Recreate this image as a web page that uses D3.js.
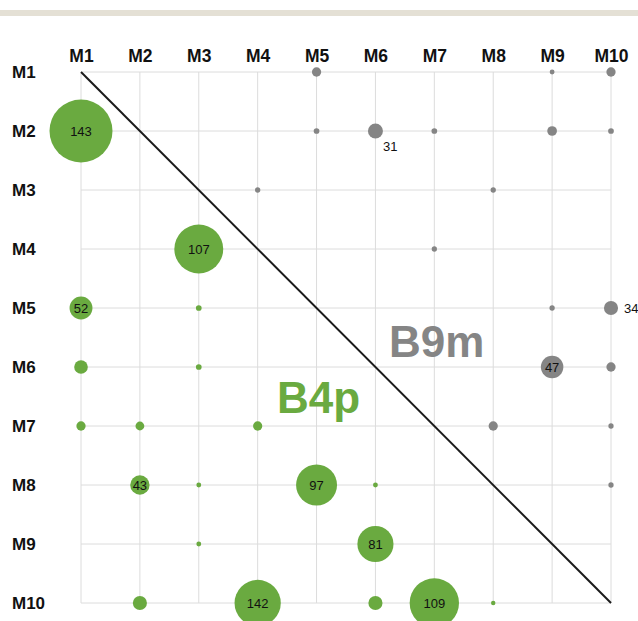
<!DOCTYPE html>
<html>
<head>
<meta charset="utf-8">
<script src="https://cdn.jsdelivr.net/npm/d3@7"></script>
<style>
  html, body { margin: 0; padding: 0; background: #fff; }
  svg { display: block; font-family: "Liberation Sans", Arial, Helvetica, sans-serif; }
</style>
</head>
<body>
<svg id="chart" width="638" height="621"></svg>
<script>
// ---- data ----
const modules = ["M1","M2","M3","M4","M5","M6","M7","M8","M9","M10"];

// lower triangle (B4p): row, column, bubble size, shown label
const b4pRow   = ["M2","M4","M5","M5","M6","M6","M7","M7","M7","M8","M8","M8","M8","M9","M9","M10","M10","M10","M10","M10"];
const b4pCol   = ["M1","M3","M1","M3","M1","M3","M1","M2","M4","M2","M3","M5","M6","M3","M6","M2","M4","M6","M7","M8"];
const b4pSize  = [143, 111, 52, 13, 31, 13, 21, 20, 21, 44, 11, 93, 11, 11, 82, 32, 105, 32, 112, 10];
const b4pLabel = ["143","107","52","","","","","","","43","","97","","","81","","142","","109",""];

// upper triangle (B9m)
const b9mRow   = ["M1","M1","M1","M2","M2","M2","M2","M2","M3","M3","M4","M5","M5","M6","M6","M7","M7","M8"];
const b9mCol   = ["M5","M9","M10","M5","M6","M7","M9","M10","M4","M8","M7","M9","M10","M9","M10","M8","M10","M10"];
const b9mSize  = [21, 11, 21, 13, 34, 13, 22, 13, 12, 12, 12, 12, 32, 51, 21, 21, 12, 12];
const b9mLabel = ["","","","","31","","","","","","","","34","47","","","",""];
// label placement: "in" = centred in bubble, "br" = below right, "r" = right
const b9mLabelPos = ["","","","","br","","","","","","","","r","in","","","",""];

const seriesNames = ["B4p", "B9m"];

// ---- layout ----
const svg = d3.select("#chart");
const x = d3.scalePoint().domain(modules).range([81, 611]);
const y = d3.scalePoint().domain(modules).range([72, 603]);
const r = d3.scaleLinear().domain([0, 143]).range([0, 31.5]);

const green = "#6aaa40";
const gray = "#858585";

// top band
svg.append("rect").attr("x", 0).attr("y", 10).attr("width", 638).attr("height", 6).attr("fill", "#e4e0d5");

// grid
const grid = svg.append("g").attr("stroke", "#dcdcdc").attr("stroke-width", 1);
grid.selectAll("line.v").data(modules).join("line").attr("class", "v")
  .attr("x1", d => x(d)).attr("x2", d => x(d))
  .attr("y1", y(modules[0])).attr("y2", y(modules[modules.length - 1]));
grid.selectAll("line.h").data(modules).join("line").attr("class", "h")
  .attr("y1", d => y(d)).attr("y2", d => y(d))
  .attr("x1", x(modules[0])).attr("x2", x(modules[modules.length - 1]));

// column labels (top axis)
const ax = svg.append("g").attr("transform", `translate(0,${y(modules[0])})`)
  .call(d3.axisTop(x).tickSize(0).tickPadding(10));
ax.select(".domain").remove();
ax.selectAll("text").attr("font-size", 17.5).attr("font-weight", "bold")
  .attr("fill", "#111").attr("font-family", "Liberation Sans, Arial, sans-serif");

// row labels
svg.append("g").selectAll("text").data(modules).join("text")
  .attr("x", 12).attr("y", d => y(d)).attr("dy", "0.36em")
  .attr("font-size", 17).attr("font-weight", "bold").attr("fill", "#111")
  .text(d => d);

// diagonal
svg.append("line")
  .attr("x1", x(modules[0])).attr("y1", y(modules[0]))
  .attr("x2", x(modules[9])).attr("y2", y(modules[9]))
  .attr("stroke", "#1a1a1a").attr("stroke-width", 2);

// series text
svg.append("text").attr("x", 277).attr("y", 413)
  .attr("font-size", 44).attr("font-weight", "bold").attr("fill", green).text(seriesNames[0]);
svg.append("text").attr("x", 389).attr("y", 357)
  .attr("font-size", 44).attr("font-weight", "bold").attr("fill", gray).text(seriesNames[1]);

// bubbles
const b4p = b4pRow.map((row, i) => ({row, col: b4pCol[i], size: b4pSize[i], label: b4pLabel[i], pos: "in"}));
const b9m = b9mRow.map((row, i) => ({row, col: b9mCol[i], size: b9mSize[i], label: b9mLabel[i], pos: b9mLabelPos[i]}));

function drawSeries(data, color) {
  const g = svg.append("g");
  g.selectAll("circle").data(data).join("circle")
    .attr("cx", d => x(d.col)).attr("cy", d => y(d.row))
    .attr("r", d => r(d.size)).attr("fill", color);
  g.selectAll("text").data(data.filter(d => d.label)).join("text")
    .attr("x", d => d.pos === "in" ? x(d.col) : x(d.col) + r(d.size) + (d.pos === "br" ? 0 : 6))
    .attr("y", d => d.pos === "br" ? y(d.row) + 20 : y(d.row))
    .attr("dy", d => d.pos === "br" ? "0" : "0.36em")
    .attr("text-anchor", d => d.pos === "in" ? "middle" : "start")
    .attr("font-size", 13).attr("fill", "#111")
    .text(d => d.label);
}
drawSeries(b4p, green);
drawSeries(b9m, gray);
</script>
</body>
</html>
